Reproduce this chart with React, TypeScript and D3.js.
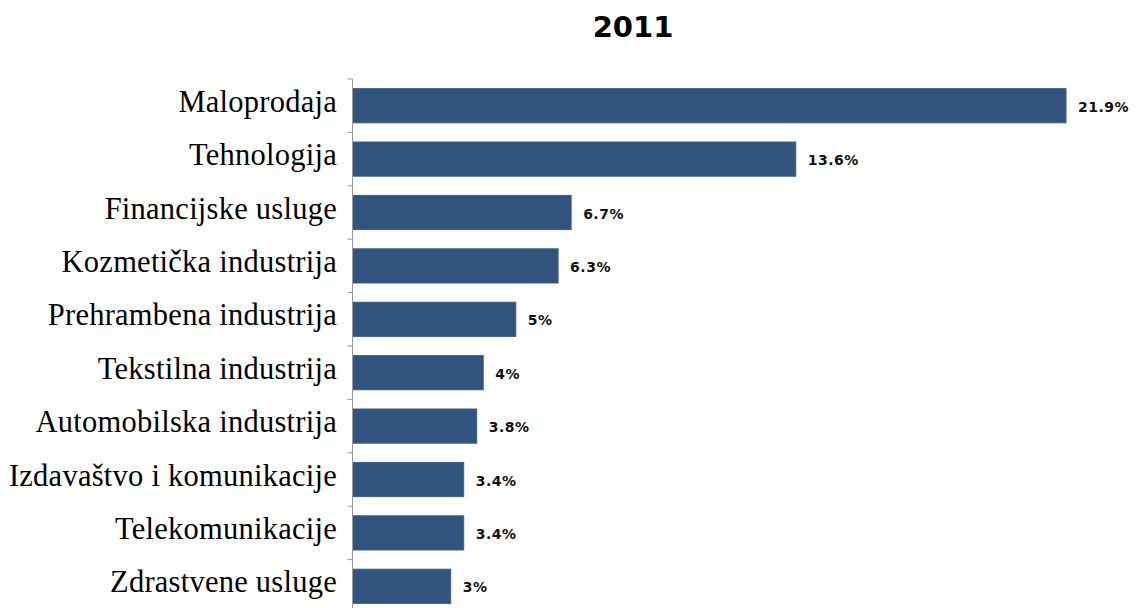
import React from "react";
import * as d3 from "d3";

const title = "2011";
const categories = [
  "Maloprodaja",
  "Tehnologija",
  "Financijske usluge",
  "Kozmetička industrija",
  "Prehrambena industrija",
  "Tekstilna industrija",
  "Automobilska industrija",
  "Izdavaštvo i komunikacije",
  "Telekomunikacije",
  "Zdrastvene usluge",
];
const values = [21.9, 13.6, 6.7, 6.3, 5, 4, 3.8, 3.4, 3.4, 3];
const valueLabels = ["21.9%", "13.6%", "6.7%", "6.3%", "5%", "4%", "3.8%", "3.4%", "3.4%", "3%"];

const W = 1141;
const H = 608;
const axisX = 352.5;
const top = 79;
const step = 53.4;

export default function App() {
  const x = d3.scaleLinear().domain([0, 21.9]).range([axisX + 0.5, 1066]);
  const y = d3
    .scaleBand<string>()
    .domain(categories)
    .range([top, top + step * categories.length])
    .paddingInner(0.36)
    .paddingOuter(0.18);
  const bw = y.bandwidth();
  const tickYs = categories.map((_, i) => top + i * step).concat([top + step * categories.length]);

  return (
    <svg
      width={W}
      height={H}
      style={{ position: "absolute", left: 0, top: 0, background: "#fff" }}
    >
      <text
        x={633}
        y={37}
        textAnchor="middle"
        fontFamily="DejaVu Sans, Verdana, sans-serif"
        fontWeight="bold"
        fontSize={29}
        fill="#000"
      >
        {title}
      </text>
      {categories.map((c, i) => (
        <g key={c}>
          <rect
            x={x(0)}
            y={y(c)!}
            width={x(values[i]) - x(0)}
            height={bw}
            fill="#31547f"
            stroke="#3d5f88"
            strokeWidth={1}
          />
          <text
            x={337}
            y={y(c)! + bw / 2 + 6}
            textAnchor="end"
            fontFamily="Liberation Serif, Times New Roman, serif"
            fontSize={30.5}
            letterSpacing={0.25}
            fill="#000"
          >
            {c}
          </text>
          <text
            x={x(values[i]) + 12}
            y={y(c)! + bw / 2 + 6}
            fontFamily="DejaVu Sans, Verdana, sans-serif"
            fontWeight="bold"
            fontSize={14}
            letterSpacing={0.5}
            fill="#111"
          >
            {valueLabels[i]}
          </text>
        </g>
      ))}
      <line x1={axisX} x2={axisX} y1={top} y2={H} stroke="#999" strokeWidth={1} />
      {tickYs.map((ty, i) => (
        <line key={i} x1={axisX - 5} x2={axisX} y1={ty} y2={ty} stroke="#999" strokeWidth={1} />
      ))}
    </svg>
  );
}
